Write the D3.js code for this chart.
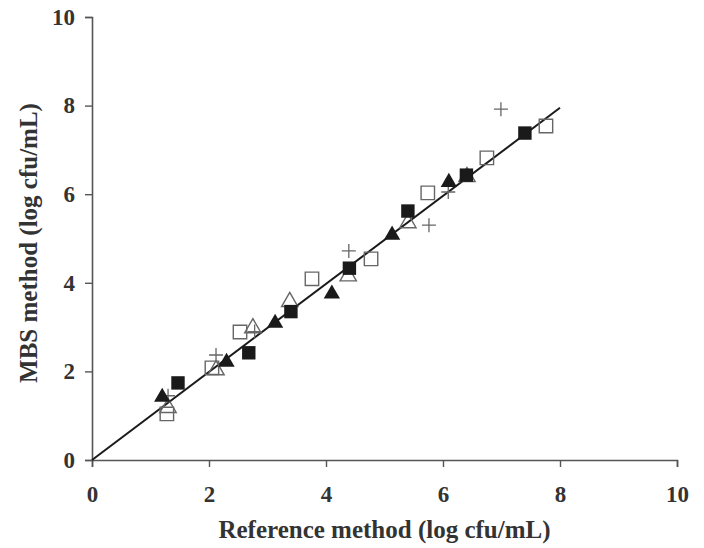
<!DOCTYPE html>
<html>
<head>
<meta charset="utf-8">
<script src="https://cdn.jsdelivr.net/npm/d3@7"></script>
<style>
  body { margin: 0; background: #fff; }
  text { font-family: "Liberation Serif", "Times New Roman", serif; font-weight: bold; fill: #333; }
</style>
</head>
<body>
<script>
// data: [reference, MBS]
var filledSquares = [[1.47, 1.74], [2.68, 2.42], [3.4, 3.35], [4.4, 4.33], [5.4, 5.62], [6.4, 6.43], [7.4, 7.38]];
var openSquares = [[1.28, 1.04], [2.05, 2.08], [2.53, 2.89], [3.76, 4.09], [4.77, 4.54], [5.74, 6.03], [6.75, 6.82], [7.76, 7.54]];
var filledTriangles = [[1.2, 1.42], [2.3, 2.21], [3.13, 3.09], [4.1, 3.75], [5.13, 5.08], [6.1, 6.27]];
var openTriangles = [[1.3, 1.18], [2.12, 2.03], [2.75, 2.98], [3.38, 3.57], [4.38, 4.15], [5.4, 5.35], [6.41, 6.39]];
var crosses = [[1.3, 1.45], [2.12, 2.37], [2.78, 2.9], [4.39, 4.72], [5.76, 5.3], [6.09, 6.05], [6.99, 7.92]];
var fitLine = [[0, 0], [8, 7.95]];
var ticks = [0, 2, 4, 6, 8, 10];

var svg = d3.select("body").append("svg").attr("width", 704).attr("height", 548),
    margin = {top: 17, right: 27, bottom: 88, left: 92},
    width = 704 - margin.left - margin.right,
    height = 548 - margin.top - margin.bottom,
    g = svg.append("g").attr("transform", "translate(" + margin.left + "," + margin.top + ")");

var x = d3.scaleLinear().domain([0, 10]).range([0, width]);
var y = d3.scaleLinear().domain([0, 10]).range([height, 0]);

// axes
var xAxis = g.append("g")
    .attr("transform", "translate(0," + height + ")")
    .call(d3.axisBottom(x).tickValues(ticks).tickSize(7).tickPadding(19));
var yAxis = g.append("g")
    .call(d3.axisLeft(y).tickValues(ticks).tickSize(7).tickPadding(10));

[xAxis, yAxis].forEach(function(a) {
  a.select(".domain").attr("stroke", "#555").attr("stroke-width", 1.6);
  a.selectAll(".tick line").attr("stroke", "#555").attr("stroke-width", 1.4);
  a.selectAll(".tick text")
    .style("font-family", "'Liberation Serif', serif")
    .style("font-weight", "bold")
    .attr("font-size", 23)
    .attr("fill", "#333");
});

// fitted line
g.append("path")
    .datum(fitLine)
    .attr("d", d3.line().x(function(d) { return x(d[0]); }).y(function(d) { return y(d[1]); }))
    .attr("stroke", "#1a1a1a")
    .attr("stroke-width", 2)
    .attr("fill", "none");

function place(d) { return "translate(" + x(d[0]) + "," + y(d[1]) + ")"; }

var sq = d3.symbol().type(d3.symbolSquare).size(180);
var tri = d3.symbol().type(d3.symbolTriangle).size(115);

g.selectAll(".osq").data(openSquares).enter().append("path")
    .attr("d", sq).attr("transform", place)
    .attr("fill", "none").attr("stroke", "#666").attr("stroke-width", 1.4);

g.selectAll(".otri").data(openTriangles).enter().append("path")
    .attr("d", tri).attr("transform", place)
    .attr("fill", "none").attr("stroke", "#666").attr("stroke-width", 1.4);

g.selectAll(".cross").data(crosses).enter().append("path")
    .attr("d", "M-7,0H7M0,-7V7").attr("transform", place)
    .attr("fill", "none").attr("stroke", "#666").attr("stroke-width", 1.3);

g.selectAll(".fsq").data(filledSquares).enter().append("path")
    .attr("d", sq).attr("transform", place)
    .attr("fill", "#1a1a1a");

g.selectAll(".ftri").data(filledTriangles).enter().append("path")
    .attr("d", tri).attr("transform", place)
    .attr("fill", "#1a1a1a");

// axis titles
svg.append("text")
    .attr("x", margin.left + width / 2)
    .attr("y", 538)
    .attr("text-anchor", "middle")
    .attr("font-size", 25)
    .text("Reference method (log cfu/mL)");

svg.append("text")
    .attr("transform", "translate(37,243) rotate(-90)")
    .attr("text-anchor", "middle")
    .attr("font-size", 25)
    .text("MBS method (log cfu/mL)");
</script>
</body>
</html>
